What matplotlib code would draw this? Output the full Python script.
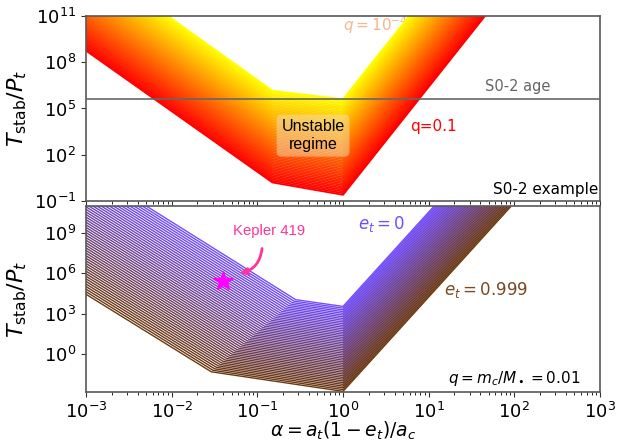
import numpy as np
import matplotlib.pyplot as plt
from matplotlib.ticker import LogLocator, NullFormatter, NullLocator

# top panel: S0-2 example, q from 1e-4 (yellow) to 0.1 (red)
top_alpha = [1e-3, 0.15, 1.0, 100.0]
top_logT_q1e4 = [14.8, 6.15, 5.6, 19.6]
top_logT_q01 = [8.75, 0.2, -0.6, 13.4]
s02_age = 4.0e5

# bottom panel: q=0.01, e_t from 0 (blue) to 0.999 (brown)
bot_alpha_e0 = [1e-3, 0.28, 1.0, 100.0]
bot_logT_e0 = [13.8, 4.05, 3.55, 17.55]
bot_alpha_e999 = [1e-3, 0.029, 1.0, 100.0]
bot_logT_e999 = [4.45, -1.3, -2.75, 11.25]

kepler_alpha = 0.04
kepler_T = 2.7e5

n_top = 60
n_bot = 50
blue = np.array([0.45, 0.30, 1.0])
brown = np.array([0.42, 0.22, 0.06])

fig = plt.figure(figsize=(6.27, 4.43), dpi=100)
ax1 = fig.add_axes([0.1372, 0.5463, 0.8198, 0.4176])
ax2 = fig.add_axes([0.1372, 0.1151, 0.8198, 0.4199])

for i in range(n_top):
    t = i / (n_top - 1)
    logT = (1 - t) * np.array(top_logT_q1e4) + t * np.array(top_logT_q01)
    ax1.plot(top_alpha, 10**logT, color=(1, 1 - t, 0), lw=1.3, zorder=2)

for i in range(n_bot):
    t = i / (n_bot - 1)
    la = (1 - t) * np.log10(bot_alpha_e0) + t * np.log10(bot_alpha_e999)
    logT = (1 - t) * np.array(bot_logT_e0) + t * np.array(bot_logT_e999)
    ax2.plot(10**la, 10**logT, color=(1 - t) * blue + t * brown, lw=1.0, zorder=2)

ax1.axhline(s02_age, color='0.4', lw=1.2, zorder=3)

for ax in (ax1, ax2):
    ax.set_xscale('log')
    ax.set_yscale('log')
    ax.set_xlim(1e-3, 1e3)
    ax.xaxis.set_major_locator(LogLocator(base=10, numticks=10))
    ax.xaxis.set_minor_locator(LogLocator(base=10, subs=np.arange(2, 10), numticks=20))
    ax.yaxis.set_minor_locator(NullLocator())
    for s in ax.spines.values():
        s.set_color('0.35')
        s.set_linewidth(1.2)
    ax.tick_params(colors='0.2', labelsize=13, labelcolor='black')
    ax.set_ylabel(r'$T_{\rm stab}/P_t$', fontsize=16)
    ax.yaxis.set_label_coords(-0.11, 0.5)

ax1.set_ylim(0.1, 1e11)
ax1.set_yticks([1e-1, 1e2, 1e5, 1e8, 1e11])
ax1.xaxis.set_major_formatter(NullFormatter())
ax1.yaxis.set_minor_locator(NullLocator())

ax2.set_ylim(10**-2.8, 1e11)
ax2.set_yticks([1e0, 1e3, 1e6, 1e9])
ax2.yaxis.set_minor_locator(NullLocator())
ax2.set_xlabel(r'$\alpha=a_t(1-e_t)/a_c$', fontsize=13.5)
ax2.xaxis.set_label_coords(0.5, -0.15)

# annotations top
ax1.text(1.0, 10**10.4, r'$q=10^{-4}$', color='#f8b58a', fontsize=11,
         ha='left', va='center', zorder=1)
ax1.text(6.1, 10**3.8, 'q=0.1', color='red', fontsize=11, ha='left', va='center')
ax1.text(46, 10**6.4, 'S0-2 age', color='0.4', fontsize=10.5, ha='left', va='center')
ax1.text(0.996, 0.06, 'S0-2 example', transform=ax1.transAxes, fontsize=11,
         ha='right', va='center')
ax1.text(10**-0.35, 10**3.24, 'Unstable\nregime', fontsize=11.5, ha='center', va='center',
         family='Liberation Sans', zorder=4,
         bbox=dict(boxstyle='round', facecolor='wheat', alpha=0.5, edgecolor='none'))

# annotations bottom
ax2.plot(kepler_alpha, kepler_T, marker='*', color='magenta', ms=15, ls='none', zorder=4)
ax2.text(0.138, 10**9.17, 'Kepler 419', color='#ff3399', fontsize=10.7,
         family='Liberation Sans', ha='center', va='center')
ax2.annotate('', xy=(0.058, 10**5.97), xytext=(0.114, 10**8.05),
             arrowprops=dict(arrowstyle='->', color='#ff3399', lw=2,
                             connectionstyle='arc3,rad=-0.4'))
ax2.text(1.5, 10**9.64, r'$e_t=0$', color=blue, fontsize=12, ha='left', va='center')
ax2.text(15.2, 10**4.77, r'$e_t=0.999$', color=(0.47, 0.29, 0.13), fontsize=12,
         ha='left', va='center')
ax2.text(0.961, 0.074, r'$q=m_c/M_\bullet=0.01$', transform=ax2.transAxes,
         fontsize=11, ha='right', va='center')

fig.savefig('out.png', dpi=100)
